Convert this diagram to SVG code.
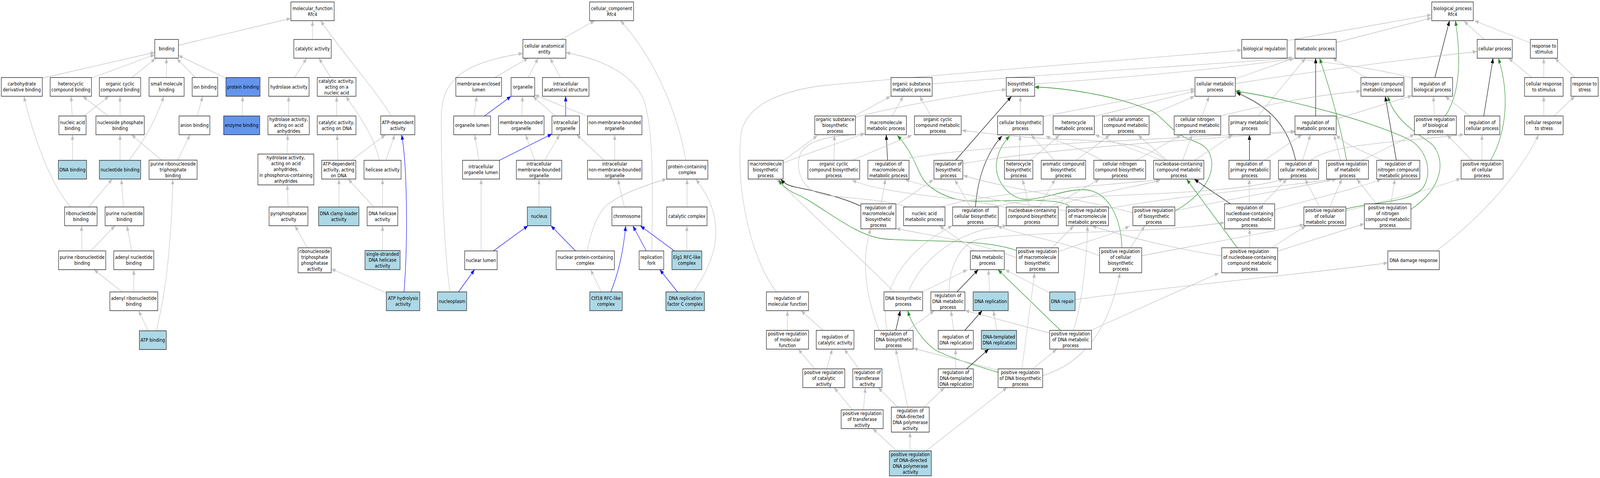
<svg xmlns="http://www.w3.org/2000/svg" width="4879" height="1224" viewBox="0 0 4879 1224" preserveAspectRatio="none">
<defs>
<style>
svg{width:100vw;height:100vh;display:block;overflow:hidden}
.n rect{fill:#ffffff;stroke:#1e1e1e;stroke-width:1.4}
.lb rect{fill:#add8e6}
.cf rect{fill:#6495ed}
text{font-family:"DejaVu Sans","Liberation Sans",sans-serif;font-size:12.8px;text-anchor:middle;fill:#000}
#edges path{fill:none;stroke-width:1.3}
.g{stroke:#c0c0c0;marker-end:url(#mg)}
.b{stroke:#0000ff;marker-end:url(#mb)}
.k{stroke:#000000;marker-end:url(#mk)}
.gr{stroke:#228b22;marker-end:url(#mgr)}
</style>
<marker id="mg" viewBox="0 0 13 10" refX="13" refY="5" markerWidth="13" markerHeight="10" markerUnits="userSpaceOnUse" orient="auto"><path d="M0,0L13,5L0,10z" fill="#c0c0c0"/></marker>
<marker id="mb" viewBox="0 0 13 10" refX="13" refY="5" markerWidth="13" markerHeight="10" markerUnits="userSpaceOnUse" orient="auto"><path d="M0,0L13,5L0,10z" fill="#0000ff"/></marker>
<marker id="mk" viewBox="0 0 13 10" refX="13" refY="5" markerWidth="13" markerHeight="10" markerUnits="userSpaceOnUse" orient="auto"><path d="M0,0L13,5L0,10z" fill="#000000"/></marker>
<marker id="mgr" viewBox="0 0 13 10" refX="13" refY="5" markerWidth="13" markerHeight="10" markerUnits="userSpaceOnUse" orient="auto"><path d="M0,0L13,5L0,10z" fill="#228b22"/></marker>
</defs>
<rect x="0" y="0" width="4879" height="1224" fill="#ffffff"/>
<g id="edges">
<path class="g" d="M544,116L887,47"/>
<path class="g" d="M129,200L472,134"/>
<path class="g" d="M279,200L472,140"/>
<path class="g" d="M402,198.5L474,150"/>
<path class="g" d="M507.5,198.5L507.5,149"/>
<path class="g" d="M596,198.5L539,150"/>
<path class="g" d="M689.5,200.5L544,142"/>
<path class="g" d="M220,297L217,246.5"/>
<path class="g" d="M256,297L332,246.5"/>
<path class="g" d="M329.5,297L252.5,246.5"/>
<path class="g" d="M366,297L366,246.5"/>
<path class="g" d="M601.5,297L618,246.5"/>
<path class="g" d="M738.5,297L740,246.5"/>
<path class="g" d="M221,410.5L221,345"/>
<path class="g" d="M366,410.5L366,345"/>
<path class="g" d="M393.5,410.5C430,370 470,320 499.5,246.5"/>
<path class="g" d="M492.5,410L401,345"/>
<path class="g" d="M542,410L579.5,345"/>
<path class="g" d="M216,530C150,470 95,330 73,246.5"/>
<path class="g" d="M270.5,530L342.5,458.5"/>
<path class="g" d="M376.5,530L370,458.5"/>
<path class="g" d="M250,642.5L248.5,578"/>
<path class="g" d="M277,642.5L350.5,578"/>
<path class="g" d="M401.5,642.5L387,578"/>
<path class="g" d="M477,847C490,800 520,700 527,459"/>
<path class="g" d="M372.5,747.5L286.5,690.5"/>
<path class="g" d="M408,747.5L408,690.5"/>
<path class="g" d="M452,847L422.5,795.5"/>
<path class="g" d="M953,101L953,53"/>
<path class="g" d="M1193,297C1150,235 1030,120 978,53"/>
<path class="g" d="M898.5,198.5L935,149"/>
<path class="g" d="M1008,198L972.5,149"/>
<path class="g" d="M880,297L880,246.5"/>
<path class="g" d="M1026.5,297L1026.5,247"/>
<path class="g" d="M875,394.5L877.5,345"/>
<path class="g" d="M1030.5,410.5L1028,345"/>
<path class="g" d="M1072,410.5L1175.5,345"/>
<path class="g" d="M1176.5,410.5L1204,345"/>
<path class="g" d="M1157,410.5C1140,350 1100,300 1054.5,247"/>
<path class="g" d="M878.5,530L876,473.5"/>
<path class="g" d="M1033.5,530L1033.5,458.5"/>
<path class="g" d="M1140,530L1061.5,458.5"/>
<path class="g" d="M1166.5,530L1166.5,458.5"/>
<path class="g" d="M1166.5,641.5L1166.5,578"/>
<path class="b" d="M1232,747.5C1244,620 1242,420 1224.5,345"/>
<path class="g" d="M1178,750L1010.5,688.5"/>
<path class="g" d="M937,634.5L899.5,578"/>
<path class="g" d="M1711.5,101L1813.5,53"/>
<path class="g" d="M2091,410.5C2075,320 2010,160 1892,53"/>
<path class="g" d="M1508.5,198.5L1610.5,149"/>
<path class="g" d="M1610,198.5L1641,149"/>
<path class="g" d="M1709,198.5L1677.5,149"/>
<path class="g" d="M1372.5,747.5C1355,650 1345,450 1345.5,300C1346,200 1420,160 1594.5,136.5"/>
<path class="g" d="M1987.5,642.5C1990,500 1995,320 1960,250C1920,180 1820,150 1725.5,134.5"/>
<path class="g" d="M1445,297L1454,246.5"/>
<path class="b" d="M1477.5,297L1558.5,246.5"/>
<path class="g" d="M1591,297L1593.5,246.5"/>
<path class="g" d="M1693,297L1625,246.5"/>
<path class="b" d="M1725,297L1725,246.5"/>
<path class="g" d="M1790,297L1630.5,243"/>
<path class="g" d="M1460.5,410.5L1447.5,345"/>
<path class="b" d="M1523,410.5L1683,343"/>
<path class="g" d="M1630.5,410.5L1603,345"/>
<path class="g" d="M1661,410.5L1706.5,345"/>
<path class="g" d="M1842,410.5L1758.5,345"/>
<path class="g" d="M1874.5,410.5L1874.5,345"/>
<path class="g" d="M1467,642.5L1467,458.5"/>
<path class="g" d="M1643.5,530L1643.5,458.5"/>
<path class="b" d="M1504.5,642.5L1610,578"/>
<path class="b" d="M1398,747.5L1447,690.5"/>
<path class="g" d="M1904,530L1884,459"/>
<path class="g" d="M2095,530L2095,458.5"/>
<path class="b" d="M1755,642.5L1680,578"/>
<path class="g" d="M1790.5,642.5C1800,600 1820,545 1855,522C1900,495 1980,470 2033,458.5"/>
<path class="g" d="M1833.5,747.5L1801,690.5"/>
<path class="b" d="M1862.5,747.5C1885,700 1900,650 1908,578.5"/>
<path class="b" d="M1971,642.5L1930,578.5"/>
<path class="b" d="M2056.5,642.5L1953,578.5"/>
<path class="g" d="M2094.5,642.5L2094.5,578.5"/>
<path class="b" d="M2066,747.5L2012,690.5"/>
<path class="g" d="M2115.5,747.5C2160,690 2185,640 2183,590C2181,530 2150,490 2122,459"/>
<path class="g" d="M3925,104L4365,38"/>
<path class="g" d="M4074.5,109L4365,46"/>
<path class="g" d="M4526,101L4464,54"/>
<path class="g" d="M4667,110L4496,53"/>
<path class="k" d="M4375.5,198.5L4420,53"/>
<path class="gr" d="M4407,297C4445,250 4460,170 4438,53"/>
<path class="g" d="M4306,200C4200,175 4050,160 3925,148"/>
<path class="g" d="M4166,198.5L4064,149"/>
<path class="g" d="M3767,202L3945,149"/>
<path class="g" d="M3767,214C3950,190 4200,160 4504,132"/>
<path class="g" d="M3836,297L3981,149"/>
<path class="k" d="M4012,297L4012,149"/>
<path class="gr" d="M4106,410.5C4090,330 4060,240 4024,149"/>
<path class="g" d="M2842.5,215C3100,195 3600,170 3943,149"/>
<path class="g" d="M3155,215C3400,200 3700,180 3947,150"/>
<path class="g" d="M4671,198.5L4600,149"/>
<path class="g" d="M4707.5,198.5L4707.5,149"/>
<path class="g" d="M4802,198.5L4741.5,149"/>
<path class="k" d="M4524.5,297L4553,149"/>
<path class="gr" d="M4545.5,410.5C4600,330 4600,230 4569,149"/>
<path class="g" d="M4482.5,297L4407,246.5"/>
<path class="g" d="M4374.5,297L4371,246.5"/>
<path class="g" d="M4707.5,297L4707.5,246.5"/>
<path class="g" d="M4739,297L4802,246.5"/>
<path class="g" d="M4380,642.5C4480,580 4620,470 4692,345"/>
<path class="g" d="M4488,410.5L4412,345"/>
<path class="g" d="M4519,410.5L4519,345"/>
<path class="g" d="M4074.5,305L4306,245"/>
<path class="g" d="M4153,410.5L4313,344"/>
<path class="g" d="M4088,410.5L4068,345"/>
<path class="g" d="M4217,410.5C4150,385 4100,370 4074.5,345"/>
<path class="k" d="M4258,410.5L4224,246.5"/>
<path class="gr" d="M4302.5,536C4420,470 4400,390 4360,365C4300,330 4250,300 4231.5,246.5"/>
<path class="g" d="M4241,522L4253.5,458.5"/>
<path class="g" d="M4197.5,522L4137.5,458.5"/>
<path class="g" d="M4104,540C4250,510 4380,480 4454,457"/>
<path class="g" d="M4055,530L4092,458.5"/>
<path class="g" d="M4024,530L3979.5,458.5"/>
<path class="gr" d="M4104,535C4200,515 4300,520 4340,480C4370,440 4350,380 4294,356C4150,300 3900,250 3767,233"/>
<path class="k" d="M3951,410.5C3930,330 3880,275 3770,237"/>
<path class="g" d="M3972,410.5L3996,345"/>
<path class="g" d="M3998,410.5C4050,370 4250,365 4464,344.5"/>
<path class="k" d="M3810,410.5L3810,345"/>
<path class="g" d="M3855,410.5L3970,345"/>
<path class="g" d="M3666,297L3687,246.5"/>
<path class="g" d="M3721,297C3850,270 4000,245 4150,233"/>
<path class="g" d="M3501.5,297L3643,246.5"/>
<path class="g" d="M3337,298.5L3644,233"/>
<path class="g" d="M3181,298.5C3350,270 3500,245 3644,228"/>
<path class="g" d="M2605.5,297L2715.5,246.5"/>
<path class="g" d="M2608.5,300C2750,270 2950,240 3068.5,229"/>
<path class="g" d="M2720.5,297L2754.5,246.5"/>
<path class="g" d="M2838.5,297L2804.5,246.5"/>
<path class="k" d="M2914,410.5L3084,247"/>
<path class="g" d="M3111.5,297L3111.5,246.5"/>
<path class="gr" d="M3582.5,540C3630,520 3700,470 3695,415C3690,370 3650,365 3620,355C3560,330 3540,290 3500,280C3400,245 3250,225 3155,223"/>
<path class="k" d="M2706.5,410.5L2702.5,345"/>
<path class="gr" d="M3261,530C3245,500 3000,520 2943,514C2880,508 2830,480 2812,455C2795,430 2780,385 2736,347"/>
<path class="k" d="M2974.5,530C2980,470 3000,400 3055.5,348"/>
<path class="gr" d="M3421,634.5C3420,560 3380,490 3310,486C3240,482 3150,525 3100,505C3060,490 3030,450 3040,410C3045,385 3060,365 3079,348"/>
<path class="g" d="M3108,410.5L3110.5,346"/>
<path class="g" d="M3215,410.5L3144.5,346"/>
<path class="g" d="M3360,410.5C3300,380 3230,365 3189,348"/>
<path class="g" d="M2388,412L2493,347"/>
<path class="g" d="M2388,418C2450,395 2550,370 2637,341"/>
<path class="g" d="M2543,410.5L2544.5,346"/>
<path class="g" d="M2598,410.5L2781,346"/>
<path class="g" d="M3553,410.5C3500,370 3400,360 3240,357C3100,352 3000,340 2933,334"/>
<path class="g" d="M3543,410.5L3339,345"/>
<path class="g" d="M3559,410.5L3470,346"/>
<path class="g" d="M3606,410.5L3635,346"/>
<path class="g" d="M3643,410.5L3758,346"/>
<path class="g" d="M3142,410.5L3231,346"/>
<path class="g" d="M3282,410.5L3384,346"/>
<path class="g" d="M3465,410.5L3601,346"/>
<path class="g" d="M2772,405C3000,370 3500,360 3949,336"/>
<path class="g" d="M2936,419C3200,380 3600,360 3949,338"/>
<path class="k" d="M2625,528C2570,505 2470,486 2420,478C2400,474 2390,468 2381,459"/>
<path class="g" d="M2687,522L2700,458.5"/>
<path class="g" d="M2739,522L2846.5,460"/>
<path class="g" d="M2765,530C2700,512 2600,508 2520,500C2440,490 2425,430 2440,395C2460,355 2550,345 2637,344"/>
<path class="g" d="M2870,530C3000,495 3300,480 3538,460"/>
<path class="g" d="M2959,530L2911.5,460"/>
<path class="g" d="M3029,530C3200,490 3700,510 3914,459"/>
<path class="g" d="M3139,530L3118,459"/>
<path class="g" d="M3168,530L3217.5,459"/>
<path class="g" d="M3204.5,530L3352.5,459"/>
<path class="g" d="M3220,530C3300,500 3450,480 3538,462"/>
<path class="g" d="M3068.5,532C2950,505 2700,500 2598,461"/>
<path class="g" d="M2970,642.5C2940,620 2900,600 2865,578.5"/>
<path class="g" d="M2813,747.5L2950,690.5"/>
<path class="g" d="M2726,747.5C2650,680 2500,570 2368,459"/>
<path class="g" d="M2770,747.5C2800,680 2900,590 3071,578"/>
<path class="k" d="M2918,747.5L2983,690.5"/>
<path class="g" d="M2894,747.5C2895,690 2920,630 2981,613C3150,590 3500,600 3734,570"/>
<path class="g" d="M3018,747.5L3014,690.5"/>
<path class="g" d="M3201,750L3065,690.5"/>
<path class="g" d="M3278.5,767C3600,730 4000,700 4232,673"/>
<path class="gr" d="M3099.5,641.5C3000,610 2800,620 2700,612C2600,605 2500,520 2420,494C2400,485 2385,475 2375,460"/>
<path class="g" d="M3099.5,660C2980,620 2850,605 2732,585"/>
<path class="g" d="M3208,634.5L3274,578.5"/>
<path class="g" d="M3227.5,645C3300,620 3400,600 3444,578.5"/>
<path class="g" d="M3353,655C3250,620 3100,600 3042,578.5"/>
<path class="g" d="M3447,634.5L3491,578.5"/>
<path class="g" d="M3481.5,655C3700,620 3900,590 3976,575"/>
<path class="gr" d="M3234,846L3043,690.5"/>
<path class="g" d="M3201,853L2942.5,795"/>
<path class="g" d="M3273,846C3300,780 3315,650 3316,578.5"/>
<path class="g" d="M3328.5,845L3717,699"/>
<path class="gr" d="M3043.5,953.5C2950,930 2880,910 2850,895C2810,870 2780,830 2768,796"/>
<path class="g" d="M3043.5,948L2785,892"/>
<path class="g" d="M3149.5,944.5L3222.5,894"/>
<path class="g" d="M3116,944.5L3155,698.5"/>
<path class="g" d="M3180,962C3300,930 3380,850 3415,698.5"/>
<path class="g" d="M3040,846L3029,795.5"/>
<path class="g" d="M2908,846L2900,795.5"/>
<path class="k" d="M2942,846L2995,795.5"/>
<path class="k" d="M2947.5,944.5L3015,894"/>
<path class="g" d="M2914,944.5L2914,894"/>
<path class="k" d="M2731.5,846L2745.5,795.5"/>
<path class="g" d="M2768,846L2849,795.5"/>
<path class="g" d="M2681,846C2650,780 2620,680 2655,586"/>
<path class="g" d="M2706,846C2680,760 2740,650 2904,578"/>
<path class="g" d="M2369,747.5C2300,680 2240,500 2260,340C2280,260 2400,232 2500,220C3000,180 3500,150 3786.5,128"/>
<path class="g" d="M2401,846L2401,795.5"/>
<path class="g" d="M2510,846L2442.5,795.5"/>
<path class="g" d="M2521,944.5L2538,894"/>
<path class="g" d="M2484.5,944.5L2434,894"/>
<path class="g" d="M2619,944.5L2574.5,894"/>
<path class="g" d="M2599.5,1049.5L2543.5,992.5"/>
<path class="g" d="M2633,1049.5L2639,992.5"/>
<path class="g" d="M2737,1042.5L2678,992.5"/>
<path class="g" d="M2768,1042.5L2731.5,894"/>
<path class="g" d="M2818.5,1042.5L2880,992.5"/>
<path class="g" d="M2734.5,1154.5L2661.5,1097.5"/>
<path class="g" d="M2775,1154.5L2775,1106.5"/>
<path class="g" d="M2824,1154.5L3071,992.5"/>
<path class="k" d="M3752,522L3642,459"/>
<path class="g" d="M3809.5,522L3809.5,458.5"/>
<path class="g" d="M3851,522L3924.5,458.5"/>
<path class="g" d="M3887,537C4000,510 4150,480 4212,459"/>
<path class="gr" d="M3773,634.5L3618.5,459"/>
<path class="g" d="M3810.5,634.5L3810.5,586"/>
<path class="g" d="M3877.5,634.5L3982,578.5"/>
<path class="g" d="M3896,643L4160,573"/>
<path class="g" d="M3725.5,655C3600,640 3450,610 3330,578.5"/>
<path class="g" d="M3251.5,540C3100,520 2850,490 2760,459"/>
<path class="g" d="M3380,534C3600,500 3900,480 4060,459"/>
<path class="g" d="M3454.5,545C3300,510 3050,480 2937,449"/>
<path class="g" d="M3582.5,540C3750,510 3950,480 4075,459"/>
</g>
<g id="n_mf" class="n"><rect x="887" y="5" width="132" height="48"/><text x="953" y="26"><tspan x="953">molecular_function</tspan><tspan x="953" dy="15">Rfc4</tspan></text></g>
<g id="n_bind" class="n"><rect x="472" y="101" width="72" height="48"/><text x="508" y="129.5">binding</text></g>
<g id="n_carb" class="n"><rect x="4" y="198.5" width="125" height="48"/><text x="66.5" y="219.5"><tspan x="66.5">carbohydrate</tspan><tspan x="66.5" dy="15">derivative binding</tspan></text></g>
<g id="n_het" class="n"><rect x="153" y="198.5" width="126" height="48"/><text x="216" y="219.5"><tspan x="216">heterocyclic</tspan><tspan x="216" dy="15">compound binding</tspan></text></g>
<g id="n_ocb" class="n"><rect x="303" y="198.5" width="126" height="48"/><text x="366" y="219.5"><tspan x="366">organic cyclic</tspan><tspan x="366" dy="15">compound binding</tspan></text></g>
<g id="n_smb" class="n"><rect x="454.5" y="198.5" width="107" height="48"/><text x="508" y="219.5"><tspan x="508">small molecule</tspan><tspan x="508" dy="15">binding</tspan></text></g>
<g id="n_ion" class="n"><rect x="586" y="198.5" width="78" height="48"/><text x="625" y="227">ion binding</text></g>
<g id="n_prot" class="n cf"><rect x="689" y="198.5" width="104" height="48"/><text x="741" y="227">protein binding</text></g>
<g id="n_nab" class="n"><rect x="179.5" y="297" width="83" height="48"/><text x="221" y="318"><tspan x="221">nucleic acid</tspan><tspan x="221" dy="15">binding</tspan></text></g>
<g id="n_nspb" class="n"><rect x="292.5" y="297" width="147.5" height="48"/><text x="366.25" y="318"><tspan x="366.25">nucleoside phosphate</tspan><tspan x="366.25" dy="15">binding</tspan></text></g>
<g id="n_anion" class="n"><rect x="546" y="297" width="94" height="48"/><text x="593" y="325.5">anion binding</text></g>
<g id="n_enz" class="n cf"><rect x="682" y="297" width="110" height="48"/><text x="737" y="325.5">enzyme binding</text></g>
<g id="n_dnab" class="n lb"><rect x="178" y="410.5" width="86" height="48"/><text x="221" y="439">DNA binding</text></g>
<g id="n_ntb" class="n lb"><rect x="303" y="410.5" width="126" height="48"/><text x="366" y="439">nucleotide binding</text></g>
<g id="n_prtb" class="n"><rect x="454.5" y="410" width="146.5" height="49"/><text x="527.75" y="424"><tspan x="527.75">purine ribonucleoside</tspan><tspan x="527.75" dy="15">triphosphate</tspan><tspan x="527.75" dy="15">binding</tspan></text></g>
<g id="n_ribb" class="n"><rect x="197" y="530" width="99" height="48"/><text x="246.5" y="551"><tspan x="246.5">ribonucleotide</tspan><tspan x="246.5" dy="15">binding</tspan></text></g>
<g id="n_pnb" class="n"><rect x="320.5" y="530" width="118" height="48"/><text x="379.5" y="551"><tspan x="379.5">purine nucleotide</tspan><tspan x="379.5" dy="15">binding</tspan></text></g>
<g id="n_prnb" class="n"><rect x="178.5" y="642.5" width="144" height="48"/><text x="250.5" y="663.5"><tspan x="250.5">purine ribonucleotide</tspan><tspan x="250.5" dy="15">binding</tspan></text></g>
<g id="n_anb" class="n"><rect x="347" y="642.5" width="122" height="48"/><text x="408" y="663.5"><tspan x="408">adenyl nucleotide</tspan><tspan x="408" dy="15">binding</tspan></text></g>
<g id="n_arnb" class="n"><rect x="335" y="747.5" width="146" height="48"/><text x="408" y="768.5"><tspan x="408">adenyl ribonucleotide</tspan><tspan x="408" dy="15">binding</tspan></text></g>
<g id="n_atpb" class="n lb"><rect x="425" y="847" width="82" height="48"/><text x="466" y="875.5">ATP binding</text></g>
<g id="n_cat" class="n"><rect x="896" y="101" width="114" height="48"/><text x="953" y="129.5">catalytic activity</text></g>
<g id="n_hyd" class="n"><rect x="819.5" y="198.5" width="123" height="48"/><text x="881" y="227">hydrolase activity</text></g>
<g id="n_cana" class="n"><rect x="967.5" y="198.5" width="118" height="48"/><text x="1026.5" y="212"><tspan x="1026.5">catalytic activity,</tspan><tspan x="1026.5" dy="15">acting on a</tspan><tspan x="1026.5" dy="15">nucleic acid</tspan></text></g>
<g id="n_hyda" class="n"><rect x="817" y="297" width="126" height="48"/><text x="880" y="310.5"><tspan x="880">hydrolase activity,</tspan><tspan x="880" dy="15">acting on acid</tspan><tspan x="880" dy="15">anhydrides</tspan></text></g>
<g id="n_cadna" class="n"><rect x="967.5" y="297" width="118" height="48"/><text x="1026.5" y="318"><tspan x="1026.5">catalytic activity,</tspan><tspan x="1026.5" dy="15">acting on DNA</tspan></text></g>
<g id="n_atpd" class="n"><rect x="1161" y="297" width="104" height="48"/><text x="1213" y="318"><tspan x="1213">ATP-dependent</tspan><tspan x="1213" dy="15">activity</tspan></text></g>
<g id="n_hydp" class="n"><rect x="786.5" y="394.5" width="170.5" height="79"/><text x="871.75" y="408.5"><tspan x="871.75">hydrolase activity,</tspan><tspan x="871.75" dy="15">acting on acid</tspan><tspan x="871.75" dy="15">anhydrides,</tspan><tspan x="871.75" dy="15">in phosphorus-containing</tspan><tspan x="871.75" dy="15">anhydrides</tspan></text></g>
<g id="n_atpdd" class="n"><rect x="981" y="410.5" width="104" height="48"/><text x="1033" y="424"><tspan x="1033">ATP-dependent</tspan><tspan x="1033" dy="15">activity, acting</tspan><tspan x="1033" dy="15">on DNA</tspan></text></g>
<g id="n_hel" class="n"><rect x="1110" y="410.5" width="113" height="48"/><text x="1166.5" y="439">helicase activity</text></g>
<g id="n_pyro" class="n"><rect x="820.5" y="530" width="118.5" height="48"/><text x="879.75" y="551"><tspan x="879.75">pyrophosphatase</tspan><tspan x="879.75" dy="15">activity</tspan></text></g>
<g id="n_dcl" class="n lb"><rect x="971.5" y="530" width="123" height="48"/><text x="1033" y="551"><tspan x="1033">DNA clamp loader</tspan><tspan x="1033" dy="15">activity</tspan></text></g>
<g id="n_dhel" class="n"><rect x="1119.5" y="530" width="93.5" height="48"/><text x="1166.25" y="551"><tspan x="1166.25">DNA helicase</tspan><tspan x="1166.25" dy="15">activity</tspan></text></g>
<g id="n_rtpa" class="n"><rect x="909" y="634.5" width="101" height="64"/><text x="959.5" y="648.5"><tspan x="959.5">ribonucleoside</tspan><tspan x="959.5" dy="15">triphosphate</tspan><tspan x="959.5" dy="15">phosphatase</tspan><tspan x="959.5" dy="15">activity</tspan></text></g>
<g id="n_ssdh" class="n lb"><rect x="1113" y="641.5" width="107" height="49"/><text x="1166.5" y="655.5"><tspan x="1166.5">single-stranded</tspan><tspan x="1166.5" dy="15">DNA helicase</tspan><tspan x="1166.5" dy="15">activity</tspan></text></g>
<g id="n_atph" class="n lb"><rect x="1178" y="747.5" width="102" height="48"/><text x="1229" y="768.5"><tspan x="1229">ATP hydrolysis</tspan><tspan x="1229" dy="15">activity</tspan></text></g>
<g id="n_cc" class="n"><rect x="1798" y="5" width="134" height="48"/><text x="1865" y="26"><tspan x="1865">cellular_component</tspan><tspan x="1865" dy="15">Rfc4</tspan></text></g>
<g id="n_cae" class="n"><rect x="1594.5" y="101" width="131" height="48"/><text x="1660" y="122"><tspan x="1660">cellular anatomical</tspan><tspan x="1660" dy="15">entity</tspan></text></g>
<g id="n_mel" class="n"><rect x="1390" y="198.5" width="139.5" height="48"/><text x="1459.75" y="219.5"><tspan x="1459.75">membrane-enclosed</tspan><tspan x="1459.75" dy="15">lumen</tspan></text></g>
<g id="n_org" class="n"><rect x="1558.5" y="198.5" width="72" height="48"/><text x="1594.5" y="227">organelle</text></g>
<g id="n_ias" class="n"><rect x="1654" y="198.5" width="142" height="48"/><text x="1725" y="219.5"><tspan x="1725">intracellular</tspan><tspan x="1725" dy="15">anatomical structure</tspan></text></g>
<g id="n_ol" class="n"><rect x="1383.5" y="297" width="112.5" height="48"/><text x="1439.75" y="325.5">organelle lumen</text></g>
<g id="n_mbo" class="n"><rect x="1520" y="297" width="139" height="48"/><text x="1589.5" y="318"><tspan x="1589.5">membrane-bounded</tspan><tspan x="1589.5" dy="15">organelle</tspan></text></g>
<g id="n_io" class="n"><rect x="1683" y="297" width="84" height="48"/><text x="1725" y="318"><tspan x="1725">intracellular</tspan><tspan x="1725" dy="15">organelle</tspan></text></g>
<g id="n_nmbo" class="n"><rect x="1791.5" y="297" width="166" height="48"/><text x="1874.5" y="318"><tspan x="1874.5">non-membrane-bounded</tspan><tspan x="1874.5" dy="15">organelle</tspan></text></g>
<g id="n_iol" class="n"><rect x="1410.5" y="410.5" width="112.5" height="48"/><text x="1466.75" y="431.5"><tspan x="1466.75">intracellular</tspan><tspan x="1466.75" dy="15">organelle lumen</tspan></text></g>
<g id="n_imbo" class="n"><rect x="1574.5" y="410.5" width="138.5" height="48"/><text x="1643.75" y="424"><tspan x="1643.75">intracellular</tspan><tspan x="1643.75" dy="15">membrane-bounded</tspan><tspan x="1643.75" dy="15">organelle</tspan></text></g>
<g id="n_inmbo" class="n"><rect x="1791.5" y="410.5" width="166" height="48"/><text x="1874.5" y="424"><tspan x="1874.5">intracellular</tspan><tspan x="1874.5" dy="15">non-membrane-bounded</tspan><tspan x="1874.5" dy="15">organelle</tspan></text></g>
<g id="n_pcc" class="n"><rect x="2033" y="410.5" width="125.5" height="48"/><text x="2095.75" y="431.5"><tspan x="2095.75">protein-containing</tspan><tspan x="2095.75" dy="15">complex</tspan></text></g>
<g id="n_nuc" class="n lb"><rect x="1608" y="530" width="72" height="48"/><text x="1644" y="558.5">nucleus</text></g>
<g id="n_chr" class="n"><rect x="1866" y="530" width="91" height="48"/><text x="1911.5" y="558.5">chromosome</text></g>
<g id="n_catc" class="n"><rect x="2033" y="530" width="123" height="48"/><text x="2094.5" y="558.5">catalytic complex</text></g>
<g id="n_nl" class="n"><rect x="1417" y="642.5" width="99" height="48"/><text x="1466.5" y="671">nuclear lumen</text></g>
<g id="n_npl" class="n lb"><rect x="1334" y="747.5" width="89" height="48"/><text x="1378.5" y="776">nucleoplasm</text></g>
<g id="n_npcc" class="n"><rect x="1696" y="642.5" width="177.5" height="48"/><text x="1784.75" y="663.5"><tspan x="1784.75">nuclear protein-containing</tspan><tspan x="1784.75" dy="15">complex</tspan></text></g>
<g id="n_rf" class="n"><rect x="1949" y="642.5" width="75" height="48"/><text x="1986.5" y="663.5"><tspan x="1986.5">replication</tspan><tspan x="1986.5" dy="15">fork</tspan></text></g>
<g id="n_elg" class="n lb"><rect x="2049" y="642.5" width="91" height="48"/><text x="2094.5" y="663.5"><tspan x="2094.5">Elg1 RFC-like</tspan><tspan x="2094.5" dy="15">complex</tspan></text></g>
<g id="n_ctf" class="n lb"><rect x="1798.5" y="747.5" width="99" height="48"/><text x="1848" y="768.5"><tspan x="1848">Ctf18 RFC-like</tspan><tspan x="1848" dy="15">complex</tspan></text></g>
<g id="n_rfc" class="n lb"><rect x="2030.5" y="747.5" width="117.5" height="48"/><text x="2089.25" y="768.5"><tspan x="2089.25">DNA replication</tspan><tspan x="2089.25" dy="15">factor C complex</tspan></text></g>
<g id="n_bp" class="n"><rect x="4366" y="5" width="126.5" height="48"/><text x="4429.25" y="26"><tspan x="4429.25">biological_process</tspan><tspan x="4429.25" dy="15">Rfc4</tspan></text></g>
<g id="n_breg" class="n"><rect x="3786.5" y="101" width="138.5" height="48"/><text x="3855.75" y="129.5">biological regulation</text></g>
<g id="n_mp" class="n"><rect x="3949" y="101" width="125.5" height="48"/><text x="4011.75" y="129.5">metabolic process</text></g>
<g id="n_cp" class="n"><rect x="4504.5" y="101" width="107" height="48"/><text x="4558" y="129.5">cellular process</text></g>
<g id="n_rs" class="n"><rect x="4666.5" y="101" width="83" height="48"/><text x="4708" y="122"><tspan x="4708">response to</tspan><tspan x="4708" dy="15">stimulus</tspan></text></g>
<g id="n_osmp" class="n"><rect x="2717" y="198.5" width="125.5" height="48"/><text x="2779.75" y="219.5"><tspan x="2779.75">organic substance</tspan><tspan x="2779.75" dy="15">metabolic process</tspan></text></g>
<g id="n_bsp" class="n"><rect x="3068.5" y="198.5" width="86.5" height="48"/><text x="3111.75" y="219.5"><tspan x="3111.75">biosynthetic</tspan><tspan x="3111.75" dy="15">process</tspan></text></g>
<g id="n_cmp" class="n"><rect x="3644" y="198.5" width="123" height="48"/><text x="3705.5" y="219.5"><tspan x="3705.5">cellular metabolic</tspan><tspan x="3705.5" dy="15">process</tspan></text></g>
<g id="n_ncmp2" class="n"><rect x="4150" y="198.5" width="131" height="48"/><text x="4215.5" y="219.5"><tspan x="4215.5">nitrogen compound</tspan><tspan x="4215.5" dy="15">metabolic process</tspan></text></g>
<g id="n_rbio" class="n"><rect x="4306" y="198.5" width="123.5" height="48"/><text x="4367.75" y="219.5"><tspan x="4367.75">regulation of</tspan><tspan x="4367.75" dy="15">biological process</tspan></text></g>
<g id="n_crsti" class="n"><rect x="4649" y="198.5" width="117.5" height="48"/><text x="4707.75" y="219.5"><tspan x="4707.75">cellular response</tspan><tspan x="4707.75" dy="15">to stimulus</tspan></text></g>
<g id="n_rstr" class="n"><rect x="4790.5" y="198.5" width="83" height="48"/><text x="4832" y="219.5"><tspan x="4832">response to</tspan><tspan x="4832" dy="15">stress</tspan></text></g>
<g id="n_osbp" class="n"><rect x="2484.5" y="297" width="124" height="48"/><text x="2546.5" y="310.5"><tspan x="2546.5">organic substance</tspan><tspan x="2546.5" dy="15">biosynthetic</tspan><tspan x="2546.5" dy="15">process</tspan></text></g>
<g id="n_mmp" class="n"><rect x="2638.5" y="297" width="125.5" height="48"/><text x="2701.25" y="318"><tspan x="2701.25">macromolecule</tspan><tspan x="2701.25" dy="15">metabolic process</tspan></text></g>
<g id="n_ocmp" class="n"><rect x="2788.5" y="297" width="142.5" height="48"/><text x="2859.75" y="310.5"><tspan x="2859.75">organic cyclic</tspan><tspan x="2859.75" dy="15">compound metabolic</tspan><tspan x="2859.75" dy="15">process</tspan></text></g>
<g id="n_cbp" class="n"><rect x="3042" y="297" width="139" height="48"/><text x="3111.5" y="318"><tspan x="3111.5">cellular biosynthetic</tspan><tspan x="3111.5" dy="15">process</tspan></text></g>
<g id="n_hmp" class="n"><rect x="3211.5" y="297" width="125.5" height="48"/><text x="3274.25" y="318"><tspan x="3274.25">heterocycle</tspan><tspan x="3274.25" dy="15">metabolic process</tspan></text></g>
<g id="n_cacmp" class="n"><rect x="3362" y="297" width="142" height="48"/><text x="3433" y="310.5"><tspan x="3433">cellular aromatic</tspan><tspan x="3433" dy="15">compound metabolic</tspan><tspan x="3433" dy="15">process</tspan></text></g>
<g id="n_cncmp" class="n"><rect x="3580.5" y="297" width="142" height="48"/><text x="3651.5" y="310.5"><tspan x="3651.5">cellular nitrogen</tspan><tspan x="3651.5" dy="15">compound metabolic</tspan><tspan x="3651.5" dy="15">process</tspan></text></g>
<g id="n_pmp" class="n"><rect x="3747.5" y="297" width="125.5" height="48"/><text x="3810.25" y="318"><tspan x="3810.25">primary metabolic</tspan><tspan x="3810.25" dy="15">process</tspan></text></g>
<g id="n_rmp" class="n"><rect x="3949" y="297" width="125.5" height="48"/><text x="4011.75" y="318"><tspan x="4011.75">regulation of</tspan><tspan x="4011.75" dy="15">metabolic process</tspan></text></g>
<g id="n_prbio" class="n"><rect x="4313" y="297" width="128" height="48"/><text x="4377" y="310.5"><tspan x="4377">positive regulation</tspan><tspan x="4377" dy="15">of biological</tspan><tspan x="4377" dy="15">process</tspan></text></g>
<g id="n_rcp" class="n"><rect x="4466" y="297" width="107.5" height="48"/><text x="4519.75" y="318"><tspan x="4519.75">regulation of</tspan><tspan x="4519.75" dy="15">cellular process</tspan></text></g>
<g id="n_crstr" class="n"><rect x="4649" y="297" width="117.5" height="48"/><text x="4707.75" y="318"><tspan x="4707.75">cellular response</tspan><tspan x="4707.75" dy="15">to stress</tspan></text></g>
<g id="n_mbp" class="n"><rect x="2281.5" y="410.5" width="106.5" height="48"/><text x="2334.75" y="424"><tspan x="2334.75">macromolecule</tspan><tspan x="2334.75" dy="15">biosynthetic</tspan><tspan x="2334.75" dy="15">process</tspan></text></g>
<g id="n_ocbp" class="n"><rect x="2463.5" y="410.5" width="158" height="48"/><text x="2542.5" y="424"><tspan x="2542.5">organic cyclic</tspan><tspan x="2542.5" dy="15">compound biosynthetic</tspan><tspan x="2542.5" dy="15">process</tspan></text></g>
<g id="n_rmmp" class="n"><rect x="2646.5" y="410.5" width="125.5" height="48"/><text x="2709.25" y="424"><tspan x="2709.25">regulation of</tspan><tspan x="2709.25" dy="15">macromolecule</tspan><tspan x="2709.25" dy="15">metabolic process</tspan></text></g>
<g id="n_rbp" class="n"><rect x="2848" y="410.5" width="88" height="48"/><text x="2892" y="424"><tspan x="2892">regulation of</tspan><tspan x="2892" dy="15">biosynthetic</tspan><tspan x="2892" dy="15">process</tspan></text></g>
<g id="n_hbp" class="n"><rect x="3063" y="410.5" width="86.5" height="48"/><text x="3106.25" y="424"><tspan x="3106.25">heterocycle</tspan><tspan x="3106.25" dy="15">biosynthetic</tspan><tspan x="3106.25" dy="15">process</tspan></text></g>
<g id="n_acbp" class="n"><rect x="3175" y="410.5" width="135.5" height="48"/><text x="3242.75" y="424"><tspan x="3242.75">aromatic compound</tspan><tspan x="3242.75" dy="15">biosynthetic</tspan><tspan x="3242.75" dy="15">process</tspan></text></g>
<g id="n_cncbp" class="n"><rect x="3335.5" y="410.5" width="158" height="48"/><text x="3414.5" y="424"><tspan x="3414.5">cellular nitrogen</tspan><tspan x="3414.5" dy="15">compound biosynthetic</tspan><tspan x="3414.5" dy="15">process</tspan></text></g>
<g id="n_nbcmp" class="n"><rect x="3518" y="410.5" width="153" height="48"/><text x="3594.5" y="424"><tspan x="3594.5">nucleobase-containing</tspan><tspan x="3594.5" dy="15">compound metabolic</tspan><tspan x="3594.5" dy="15">process</tspan></text></g>
<g id="n_rpmp" class="n"><rect x="3747.5" y="410.5" width="125.5" height="48"/><text x="3810.25" y="424"><tspan x="3810.25">regulation of</tspan><tspan x="3810.25" dy="15">primary metabolic</tspan><tspan x="3810.25" dy="15">process</tspan></text></g>
<g id="n_rcmp" class="n"><rect x="3898.5" y="410.5" width="122.5" height="48"/><text x="3959.75" y="424"><tspan x="3959.75">regulation of</tspan><tspan x="3959.75" dy="15">cellular metabolic</tspan><tspan x="3959.75" dy="15">process</tspan></text></g>
<g id="n_prmp" class="n"><rect x="4045" y="410.5" width="128" height="48"/><text x="4109" y="424"><tspan x="4109">positive regulation</tspan><tspan x="4109" dy="15">of metabolic</tspan><tspan x="4109" dy="15">process</tspan></text></g>
<g id="n_rnmp" class="n"><rect x="4198" y="410.5" width="131.5" height="48"/><text x="4263.75" y="424"><tspan x="4263.75">regulation of</tspan><tspan x="4263.75" dy="15">nitrogen compound</tspan><tspan x="4263.75" dy="15">metabolic process</tspan></text></g>
<g id="n_prcp" class="n"><rect x="4455.5" y="410.5" width="128" height="48"/><text x="4519.5" y="424"><tspan x="4519.5">positive regulation</tspan><tspan x="4519.5" dy="15">of cellular</tspan><tspan x="4519.5" dy="15">process</tspan></text></g>
<g id="n_rmbp" class="n"><rect x="2625" y="522" width="107" height="64"/><text x="2678.5" y="536"><tspan x="2678.5">regulation of</tspan><tspan x="2678.5" dy="15">macromolecule</tspan><tspan x="2678.5" dy="15">biosynthetic</tspan><tspan x="2678.5" dy="15">process</tspan></text></g>
<g id="n_namp" class="n"><rect x="2755.5" y="530" width="126" height="48"/><text x="2818.5" y="551"><tspan x="2818.5">nucleic acid</tspan><tspan x="2818.5" dy="15">metabolic process</tspan></text></g>
<g id="n_rcbp" class="n"><rect x="2905" y="530" width="139" height="48"/><text x="2974.5" y="543.5"><tspan x="2974.5">regulation of</tspan><tspan x="2974.5" dy="15">cellular biosynthetic</tspan><tspan x="2974.5" dy="15">process</tspan></text></g>
<g id="n_nbcbp" class="n"><rect x="3068.5" y="530" width="158.5" height="48"/><text x="3147.75" y="543.5"><tspan x="3147.75">nucleobase-containing</tspan><tspan x="3147.75" dy="15">compound biosynthetic</tspan><tspan x="3147.75" dy="15">process</tspan></text></g>
<g id="n_prmmp" class="n"><rect x="3251.5" y="530" width="128.5" height="48"/><text x="3315.75" y="543.5"><tspan x="3315.75">positive regulation</tspan><tspan x="3315.75" dy="15">of macromolecule</tspan><tspan x="3315.75" dy="15">metabolic process</tspan></text></g>
<g id="n_prbp" class="n"><rect x="3454.5" y="530" width="128" height="48"/><text x="3518.5" y="543.5"><tspan x="3518.5">positive regulation</tspan><tspan x="3518.5" dy="15">of biosynthetic</tspan><tspan x="3518.5" dy="15">process</tspan></text></g>
<g id="n_rnbcmp" class="n"><rect x="3734" y="522" width="153" height="64"/><text x="3810.5" y="536"><tspan x="3810.5">regulation of</tspan><tspan x="3810.5" dy="15">nucleobase-containing</tspan><tspan x="3810.5" dy="15">compound metabolic</tspan><tspan x="3810.5" dy="15">process</tspan></text></g>
<g id="n_prcmp" class="n"><rect x="3976" y="530" width="128" height="48"/><text x="4040" y="543.5"><tspan x="4040">positive regulation</tspan><tspan x="4040" dy="15">of cellular</tspan><tspan x="4040" dy="15">metabolic process</tspan></text></g>
<g id="n_prnmp" class="n"><rect x="4160.5" y="522" width="142" height="64"/><text x="4231.5" y="536"><tspan x="4231.5">positive regulation</tspan><tspan x="4231.5" dy="15">of nitrogen</tspan><tspan x="4231.5" dy="15">compound metabolic</tspan><tspan x="4231.5" dy="15">process</tspan></text></g>
<g id="n_dmp" class="n"><rect x="2959" y="642.5" width="103.5" height="48"/><text x="3010.75" y="663.5"><tspan x="3010.75">DNA metabolic</tspan><tspan x="3010.75" dy="15">process</tspan></text></g>
<g id="n_prmbp" class="n"><rect x="3099.5" y="634.5" width="128" height="64"/><text x="3163.5" y="648.5"><tspan x="3163.5">positive regulation</tspan><tspan x="3163.5" dy="15">of macromolecule</tspan><tspan x="3163.5" dy="15">biosynthetic</tspan><tspan x="3163.5" dy="15">process</tspan></text></g>
<g id="n_prcbp" class="n"><rect x="3353" y="634.5" width="128.5" height="64"/><text x="3417.25" y="648.5"><tspan x="3417.25">positive regulation</tspan><tspan x="3417.25" dy="15">of cellular</tspan><tspan x="3417.25" dy="15">biosynthetic</tspan><tspan x="3417.25" dy="15">process</tspan></text></g>
<g id="n_prnbcmp" class="n"><rect x="3725.5" y="634.5" width="170.5" height="64"/><text x="3810.75" y="648.5"><tspan x="3810.75">positive regulation</tspan><tspan x="3810.75" dy="15">of nucleobase-containing</tspan><tspan x="3810.75" dy="15">compound metabolic</tspan><tspan x="3810.75" dy="15">process</tspan></text></g>
<g id="n_ddr" class="n"><rect x="4232" y="642.5" width="157" height="48"/><text x="4310.5" y="671">DNA damage response</text></g>
<g id="n_rmf" class="n"><rect x="2337" y="747.5" width="128.5" height="48"/><text x="2401.25" y="768.5"><tspan x="2401.25">regulation of</tspan><tspan x="2401.25" dy="15">molecular function</tspan></text></g>
<g id="n_dbp" class="n"><rect x="2695.5" y="747.5" width="118" height="48"/><text x="2754.5" y="768.5"><tspan x="2754.5">DNA biosynthetic</tspan><tspan x="2754.5" dy="15">process</tspan></text></g>
<g id="n_rdmp" class="n"><rect x="2838.5" y="747.5" width="104" height="48"/><text x="2890.5" y="761"><tspan x="2890.5">regulation of</tspan><tspan x="2890.5" dy="15">DNA metabolic</tspan><tspan x="2890.5" dy="15">process</tspan></text></g>
<g id="n_drep" class="n lb"><rect x="2967.5" y="747.5" width="107" height="48"/><text x="3021" y="776">DNA replication</text></g>
<g id="n_drepair" class="n lb"><rect x="3201" y="747.5" width="77.5" height="48"/><text x="3239.75" y="776">DNA repair</text></g>
<g id="n_prmf" class="n"><rect x="2337" y="846" width="128.5" height="48"/><text x="2401.25" y="859.5"><tspan x="2401.25">positive regulation</tspan><tspan x="2401.25" dy="15">of molecular</tspan><tspan x="2401.25" dy="15">function</tspan></text></g>
<g id="n_rca" class="n"><rect x="2489" y="846" width="115" height="48"/><text x="2546.5" y="867"><tspan x="2546.5">regulation of</tspan><tspan x="2546.5" dy="15">catalytic activity</tspan></text></g>
<g id="n_rdbp" class="n"><rect x="2666.5" y="846" width="118" height="48"/><text x="2725.5" y="859.5"><tspan x="2725.5">regulation of</tspan><tspan x="2725.5" dy="15">DNA biosynthetic</tspan><tspan x="2725.5" dy="15">process</tspan></text></g>
<g id="n_rdr" class="n"><rect x="2861" y="846" width="107" height="48"/><text x="2914.5" y="867"><tspan x="2914.5">regulation of</tspan><tspan x="2914.5" dy="15">DNA replication</tspan></text></g>
<g id="n_dtdr" class="n lb"><rect x="2992.5" y="846" width="107.5" height="48"/><text x="3046.25" y="867"><tspan x="3046.25">DNA-templated</tspan><tspan x="3046.25" dy="15">DNA replication</tspan></text></g>
<g id="n_prdmp" class="n"><rect x="3201" y="846" width="127.5" height="48"/><text x="3264.75" y="859.5"><tspan x="3264.75">positive regulation</tspan><tspan x="3264.75" dy="15">of DNA metabolic</tspan><tspan x="3264.75" dy="15">process</tspan></text></g>
<g id="n_prca" class="n"><rect x="2448" y="944.5" width="128" height="48"/><text x="2512" y="958"><tspan x="2512">positive regulation</tspan><tspan x="2512" dy="15">of catalytic</tspan><tspan x="2512" dy="15">activity</tspan></text></g>
<g id="n_rta" class="n"><rect x="2600.5" y="944.5" width="89" height="48"/><text x="2645" y="958"><tspan x="2645">regulation of</tspan><tspan x="2645" dy="15">transferase</tspan><tspan x="2645" dy="15">activity</tspan></text></g>
<g id="n_rdtdr" class="n"><rect x="2861" y="944.5" width="107" height="48"/><text x="2914.5" y="958"><tspan x="2914.5">regulation of</tspan><tspan x="2914.5" dy="15">DNA-templated</tspan><tspan x="2914.5" dy="15">DNA replication</tspan></text></g>
<g id="n_prdbp" class="n"><rect x="3043.5" y="944.5" width="136" height="48"/><text x="3111.5" y="958"><tspan x="3111.5">positive regulation</tspan><tspan x="3111.5" dy="15">of DNA biosynthetic</tspan><tspan x="3111.5" dy="15">process</tspan></text></g>
<g id="n_prta" class="n"><rect x="2565" y="1049.5" width="128" height="48"/><text x="2629" y="1063"><tspan x="2629">positive regulation</tspan><tspan x="2629" dy="15">of transferase</tspan><tspan x="2629" dy="15">activity</tspan></text></g>
<g id="n_rddpa" class="n"><rect x="2718" y="1042.5" width="115.5" height="64"/><text x="2775.75" y="1056.5"><tspan x="2775.75">regulation of</tspan><tspan x="2775.75" dy="15">DNA-directed</tspan><tspan x="2775.75" dy="15">DNA polymerase</tspan><tspan x="2775.75" dy="15">activity</tspan></text></g>
<g id="n_prddpa" class="n lb"><rect x="2712" y="1154.5" width="128" height="64"/><text x="2776" y="1168.5"><tspan x="2776">positive regulation</tspan><tspan x="2776" dy="15">of DNA-directed</tspan><tspan x="2776" dy="15">DNA polymerase</tspan><tspan x="2776" dy="15">activity</tspan></text></g>
</svg>
